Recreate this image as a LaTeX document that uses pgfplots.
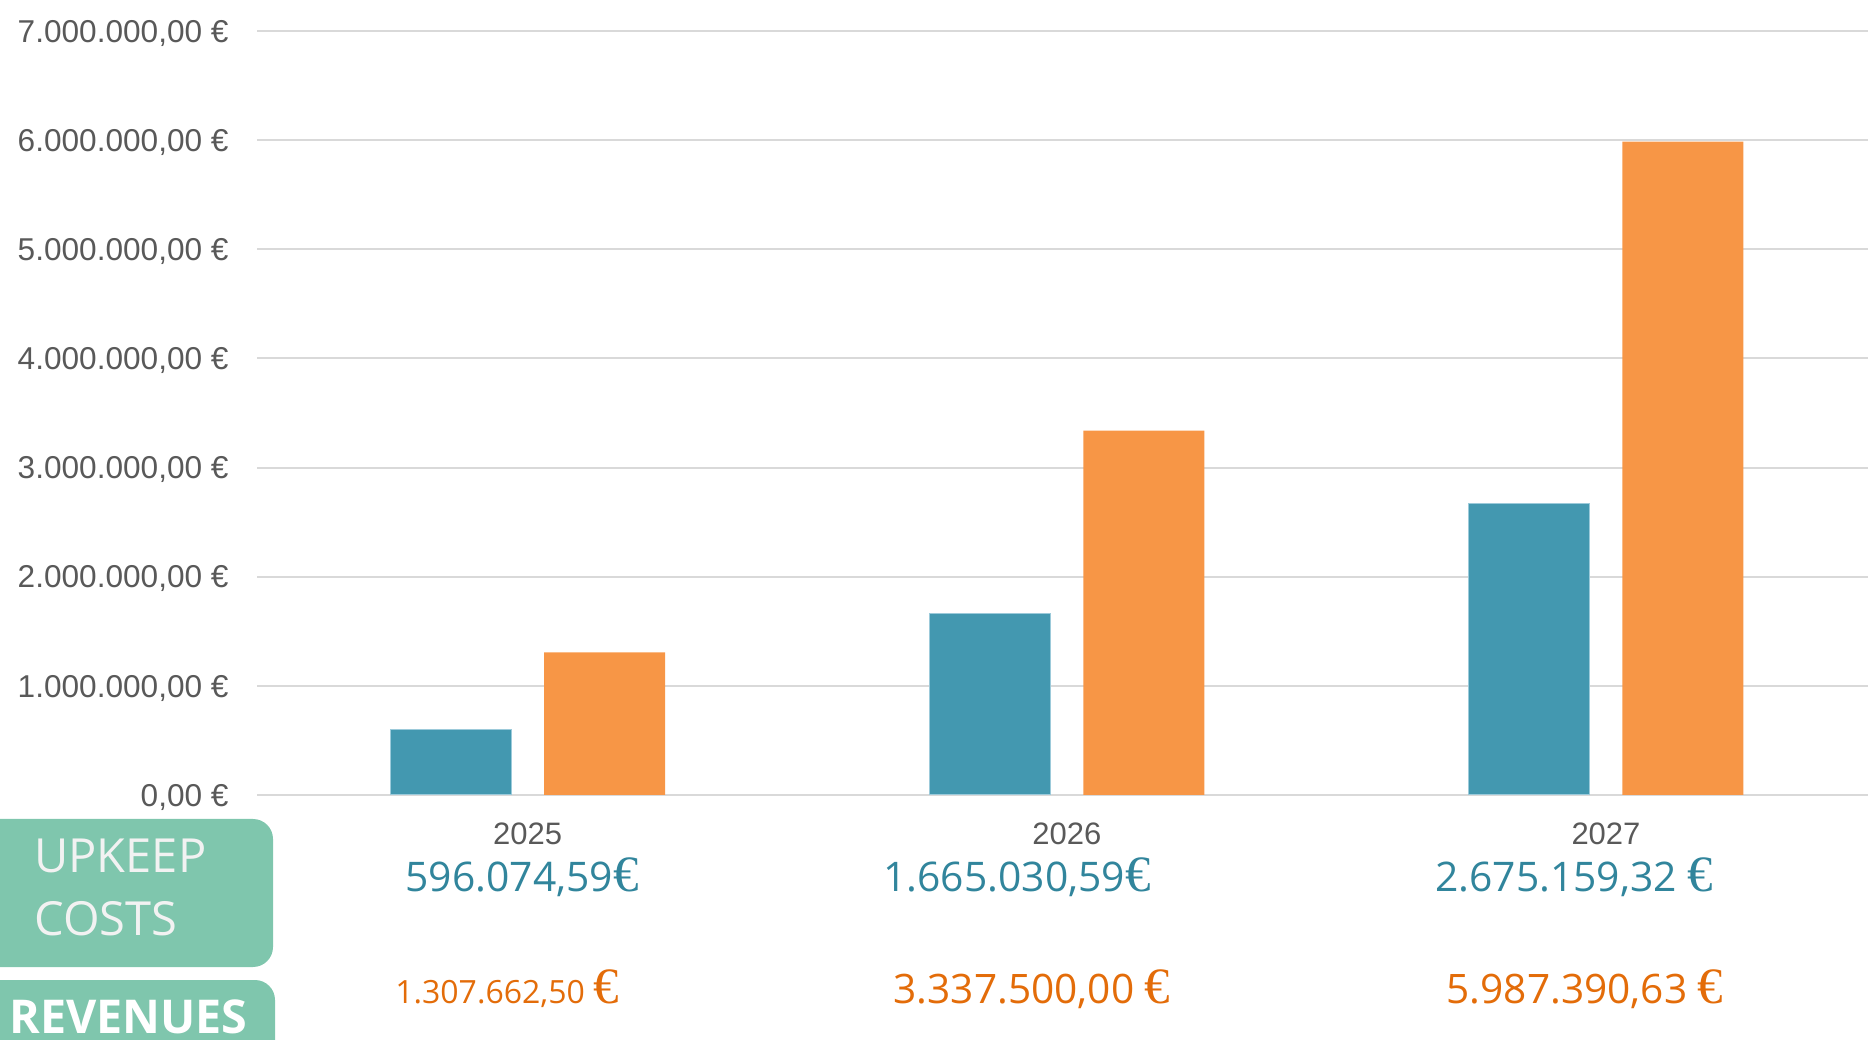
\documentclass[border=0pt]{standalone}
\usepackage{fontspec}
\setmainfont{Liberation Sans}
\newfontfamily\osans{Open Sans}
\newfontfamily\eurof{Liberation Serif}
\usepackage{pgfplots}
\pgfplotsset{compat=1.18}
\definecolor{tealbar}{HTML}{4398B0}
\definecolor{tealedge}{HTML}{9CCADA}
\definecolor{orangebar}{HTML}{F79646}
\definecolor{tealtxt}{HTML}{31859C}
\definecolor{orangetxt}{HTML}{E36C09}
\definecolor{boxgreen}{HTML}{7FC6AD}
\definecolor{ticktxt}{HTML}{595959}
\definecolor{gridc}{HTML}{D9D9D9}
\newcommand{\tl}[2]{{\osans\fontsize{#1}{#1}\selectfont #2}}
\newcommand{\eur}{{\eurof\fontsize{25.5}{25.5}\selectfont €}}
\begin{document}
\begin{tikzpicture}
\path[use as bounding box] (0,0) rectangle (934pt,519.5pt);
\begin{axis}[
  at={(128.5pt,122pt)}, anchor=south west,
  scale only axis, width=805.5pt, height=382pt,
  xmin=-0.502, xmax=2.486, ymin=0, ymax=7000000,
  scaled y ticks=false,
  ybar, bar width=60.5pt,
  axis line style={draw=none},
  major tick length=0pt,
  xtick={0,1,2}, xticklabels={2025,2026,2027},
  ytick={0,1000000,2000000,3000000,4000000,5000000,6000000,7000000},
  yticklabels={{0,00 €},{1.000.000,00 €},{2.000.000,00 €},{3.000.000,00 €},{4.000.000,00 €},{5.000.000,00 €},{6.000.000,00 €},{7.000.000,00 €}},
  ymajorgrids, grid style={gridc, line width=1pt},
  yticklabel style={anchor=base east, inner sep=0pt, xshift=-14pt, yshift=-5.6pt, font=\fontsize{15.8}{18}\selectfont, text=ticktxt},
  xticklabel style={anchor=base, inner sep=0pt, yshift=-24.6pt, font=\fontsize{15.5}{18}\selectfont, text=ticktxt},
]
\addplot[fill=tealbar, draw=tealedge, line width=0.5pt, bar shift=-38.5pt] coordinates {(0,596074.59) (1,1665030.59) (2,2675159.32)};
\addplot[fill=orangebar, draw=none, bar shift=38.5pt] coordinates {(0,1307662.50) (1,3337500.00) (2,5987390.63)};
\end{axis}
% legend boxes
\fill[boxgreen, rounded corners=10pt] (-20pt,36pt) rectangle (136.5pt,110pt);
\fill[boxgreen, rounded corners=10pt] (-20pt,-20pt) rectangle (137.5pt,29.5pt);
\node[anchor=base west, inner sep=0pt, text={rgb,255:red,242;green,242;blue,242}] at (17pt,83.5pt) {\osans\fontsize{23.5}{23.5}\selectfont UPKEEP};
\node[anchor=base west, inner sep=0pt, text={rgb,255:red,242;green,242;blue,242}] at (17pt,52pt) {\osans\fontsize{23.5}{23.5}\selectfont COSTS};
\node[anchor=base west, inner sep=0pt, text=white] at (4.5pt,3pt) {\osans\bfseries\fontsize{23.3}{23.3}\selectfont REVENUES};
% value labels
\node[anchor=base, inner sep=0pt, text=tealtxt] at (261pt,74pt) {\tl{20.4}{596.074,59}\eur};
\node[anchor=base, inner sep=0pt, text=tealtxt] at (508.5pt,74pt) {\tl{20.4}{1.665.030,59}\eur};
\node[anchor=base, inner sep=0pt, text=tealtxt] at (787pt,74pt) {\tl{20.4}{2.675.159,32 }\eur};
\node[anchor=base, inner sep=0pt, text=orangetxt] at (253.5pt,18pt) {\tl{16}{1.307.662,50 }\eur};
\node[anchor=base, inner sep=0pt, text=orangetxt] at (516pt,18pt) {\tl{20.3}{3.337.500,00 }\eur};
\node[anchor=base, inner sep=0pt, text=orangetxt] at (792.5pt,18pt) {\tl{20.3}{5.987.390,63 }\eur};
\end{tikzpicture}
\end{document}
